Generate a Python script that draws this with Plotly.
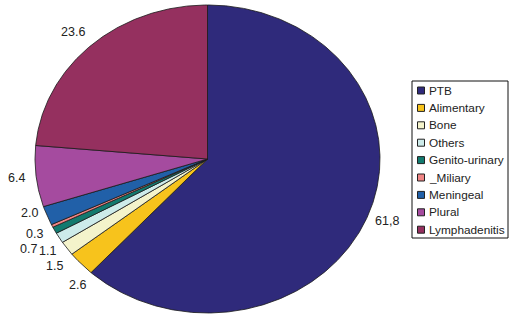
import math
import plotly.graph_objects as go

# ---- data ----
categories = ["PTB", "Alimentary", "Bone", "Others", "Genito-urinary",
              "_Miliary", "Meningeal", "Plural", "Lymphadenitis"]
values = [61.8, 2.6, 1.5, 1.1, 0.7, 0.3, 2.0, 6.4, 23.6]
value_labels = ["61,8", "2.6", "1.5", "1.1", "0.7", "0.3", "2.0", "6.4", "23.6"]

# ---- style / layout ----
colors = ["#2F2A7B", "#F7C31C", "#F4F3CB", "#CDEBEA", "#127A6F",
          "#F08585", "#2160A8", "#A54B9F", "#95305F"]
W, H = 522, 317
CX, CY, RX, RY = 207.5, 159.0, 172.5, 154.0
LABEL_R = 1.115
label_nudge = {"Lymphadenitis": (-5, 0), "Alimentary": (11, 9), "Bone": (4, 7),
               "Others": (5, 4), "Genito-urinary": (-8, 11), "Meningeal": (1, -9)}
FONT = "Liberation Sans, Arial"
LEG_X0, LEG_X1, LEG_Y0, LEG_Y1 = 412, 508, 81, 238
LEG_FIRST, LEG_STEP = 90.5, 17.4

fig = go.Figure()
total = sum(values)
start = 0.0
annotations = []
for cat, v, lab, col in zip(categories, values, value_labels, colors):
    a0 = start / total * 2 * math.pi
    a1 = (start + v) / total * 2 * math.pi
    n = max(3, int((a1 - a0) / (2 * math.pi) * 720))
    xs, ys = [CX], [CY]
    for i in range(n + 1):
        a = a0 + (a1 - a0) * i / n
        xs.append(CX + RX * math.sin(a))
        ys.append(CY - RY * math.cos(a))
    xs.append(CX)
    ys.append(CY)
    fig.add_trace(go.Scatter(x=xs, y=ys, mode="lines", fill="toself",
                             fillcolor=col, line=dict(color="#1a1a1a", width=0.8),
                             showlegend=False, hoverinfo="skip", name=cat))
    am = (a0 + a1) / 2
    dx, dy = label_nudge.get(cat, (0, 0))
    annotations.append(dict(x=CX + RX * LABEL_R * math.sin(am) + dx,
                            y=CY - RY * LABEL_R * math.cos(am) + dy,
                            text=lab, showarrow=False, xref="x", yref="y",
                            xanchor="center", yanchor="middle",
                            font=dict(size=12.5, color="#222", family=FONT)))
    start += v

# ---- legend (drawn manually to match the boxed legend) ----
leg_y = [LEG_FIRST + LEG_STEP * i for i in range(len(categories))]
fig.add_trace(go.Scatter(x=[421] * len(categories), y=leg_y, mode="markers",
                         marker=dict(symbol="square", size=7, color=colors,
                                     line=dict(color="#222", width=1)),
                         showlegend=False, hoverinfo="skip"))
for cat, y in zip(categories, leg_y):
    annotations.append(dict(x=427, y=y, text=cat, showarrow=False, xref="x", yref="y",
                            xanchor="left", yanchor="middle",
                            font=dict(size=11.8, color="#222", family=FONT)))

fig.update_layout(
    width=W, height=H, margin=dict(l=0, r=0, t=0, b=0),
    paper_bgcolor="white", plot_bgcolor="white",
    xaxis=dict(range=[0, W], visible=False, fixedrange=True),
    yaxis=dict(range=[H, 0], visible=False, fixedrange=True),
    annotations=annotations,
    shapes=[dict(type="rect", xref="x", yref="y", x0=LEG_X0, x1=LEG_X1,
                 y0=LEG_Y0, y1=LEG_Y1, line=dict(color="#111", width=1),
                 layer="below")],
    showlegend=False,
)
fig.write_html("out.html")
